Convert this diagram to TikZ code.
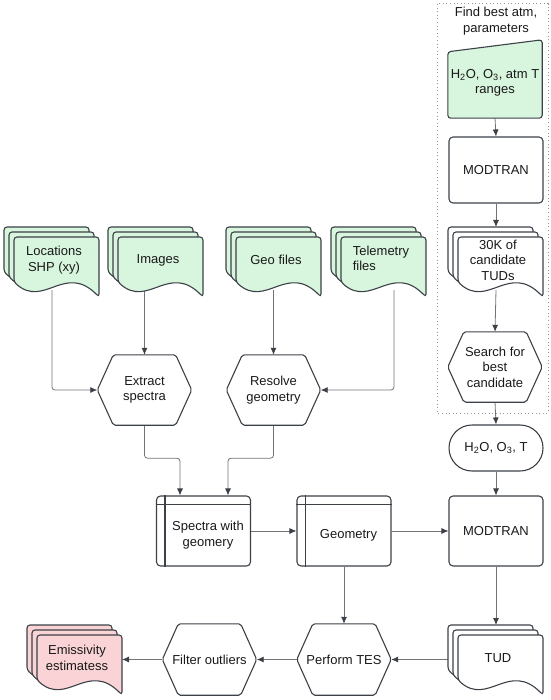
\documentclass[tikz,border=0pt]{standalone}
\usepackage{fontspec}
\setmainfont{Liberation Sans}
\usetikzlibrary{arrows.meta,calc}
\definecolor{lc}{HTML}{3C4148}
\definecolor{cc}{HTML}{737373}
\definecolor{gfill}{RGB}{216,245,222}
\definecolor{pfill}{RGB}{249,211,213}
\pgfdeclarelayer{bg}\pgfsetlayers{bg,main}
\newcommand\stackshape[5]{%
  \foreach \d in {10,5,0}{%
    \draw[shp, fill=#4, rounded corners=3pt, shift={({#2-\d},{#3-\d})}]
      (85,60) .. controls (51,25) and (30,72) .. (0,45) -- (0,0) -- (85,0) -- cycle;
  }
  \node[txt] (#1) at ({#2+40},{#3+23}) {#5};
}
\newcommand\hexdraw[1]{%
  \draw[shp, rounded corners=2pt] (#1.west) -- ([xshift=16pt]#1.north west) -- ([xshift=-16pt]#1.north east)
    -- (#1.east) -- ([xshift=-16pt]#1.south east) -- ([xshift=16pt]#1.south west) -- cycle;}
\newcommand\storedraw[1]{%
  \draw[shp] ([xshift=9pt]#1.north west) -- ([xshift=9pt]#1.south west);
  \draw[shp] ([yshift=-9pt]#1.north west) -- ([yshift=-9pt]#1.north east);}
\begin{document}
\begin{tikzpicture}[x=1pt,y=-1pt,
  txt/.style={font=\fontsize{13}{15.5}\selectfont, text=black!90, align=center, inner sep=0pt},
  shp/.style={draw=lc, line width=1.1pt},
  box/.style={shp, rounded corners=4pt, minimum width=94pt, minimum height=70pt, inner sep=0pt},
  hexn/.style={txt, minimum width=94pt, minimum height=70pt},
  conn/.style={draw=cc, line width=0.8pt, rounded corners=3pt, -{Latex[length=7pt,width=6pt,color=lc]}}
]
\useasboundingbox (0,0) rectangle (550,700);

% dotted group
\draw[draw=gray!80, line width=1pt, dash pattern=on 1pt off 2.6pt] (437,4) rectangle (548,413);
\node[txt] (title) at (496,21) {Find best atm,\\parameters};

% manual input
\node[minimum width=94pt, minimum height=78pt, inner sep=0pt] (manual) at (495,79) {};
\draw[shp, fill=gfill, rounded corners=3pt] (manual.south west) -- ([yshift=-12pt]manual.north west)
  -- (manual.north east) -- (manual.south east) -- cycle;
\node[txt] (manual-t) at (495,83) {H\textsubscript{2}O, O\textsubscript{3}, atm T\\ranges};

\node[box, txt, minimum height=66pt] (modtran1) at (496,170) {MODTRAN};

\stackshape{k30}{458}{237}{white}{30K of\\candidate\\TUDs}
\coordinate (k30-t) at (496,227);
\coordinate (k30-b) at (496,290);

\node[hexn] (search) at (495,367) {Search for\\best\\candidate};
\hexdraw{search}

\node[shp, txt, rounded corners=23pt, minimum width=94pt, minimum height=46pt] (term) at (496,448)
  {H\textsubscript{2}O, O\textsubscript{3}, T};

\node[box, txt] (modtran2) at (496,531) {MODTRAN};

\stackshape{tud}{458}{635}{white}{TUD}
\coordinate (tud-t) at (496,625);
\coordinate (tud-w) at (448,659.5);

% inputs
\stackshape{loc}{14}{237}{gfill}{Locations\\SHP (xy)}
\coordinate (loc-b) at (52,290);
\stackshape{img}{118}{237}{gfill}{Images}
\coordinate (img-b) at (144.5,290);
\stackshape{geo}{236}{237}{gfill}{Geo files}
\coordinate (geo-b) at (273.5,290);
\stackshape{tel}{341}{237}{gfill}{\begin{tabular}{@{}l@{}}Telemetry\\files\end{tabular}}
\coordinate (tel-b) at (394,290);

\node[hexn] (extract) at (144.5,390) {Extract\\spectra};
\hexdraw{extract}
\node[hexn] (resolve) at (273.5,390) {Resolve\\geometry};
\hexdraw{resolve}

\node[box] (spectra) at (203.5,531) {};
\storedraw{spectra}
\node[txt] (spectra-t) at (208,535) {Spectra with\\geomery};
\node[box] (geometry) at (344,531) {};
\storedraw{geometry}
\node[txt] (geometry-t) at (348.5,535) {Geometry};

\node[hexn, minimum height=71pt] (perform) at (344,659.5) {Perform TES};
\hexdraw{perform}
\node[hexn, minimum height=71pt] (filter) at (209.5,659.5) {Filter outliers};
\hexdraw{filter}

\stackshape{emis}{37}{635}{pfill}{Emissivity\\estimatess}
\coordinate (emis-e) at (122,659.5);

\begin{pgfonlayer}{bg}
\draw[conn] (manual.south) -- (modtran1.north);
\draw[conn] (modtran1.south) -- (k30-t);
\draw[conn] (k30-b) -- (search.north);
\draw[conn] (search.south) -- (term.north);
\draw[conn] (term.south) -- (modtran2.north);
\draw[conn] (modtran2.south) -- (tud-t);
\draw[conn] (tud-w) -- (perform.east);
\draw[conn] (perform.west) -- (filter.east);
\draw[conn] (filter.west) -- (emis-e);
\draw[conn] (loc-b) |- (extract.west);
\draw[conn] (img-b) -- (extract.north);
\draw[conn] (geo-b) -- (resolve.north);
\draw[conn] (tel-b) |- (resolve.east);
\draw[conn] (extract.south) -- ++(0,33) -| ([xshift=-23.5pt]spectra.north);
\draw[conn] (resolve.south) -- ++(0,33) -| ([xshift=24.5pt]spectra.north);
\draw[conn] (spectra.east) -- (geometry.west);
\draw[conn] (geometry.east) -- (modtran2.west);
\draw[conn] (geometry.south) -- (perform.north);
\end{pgfonlayer}
\end{tikzpicture}
\end{document}
